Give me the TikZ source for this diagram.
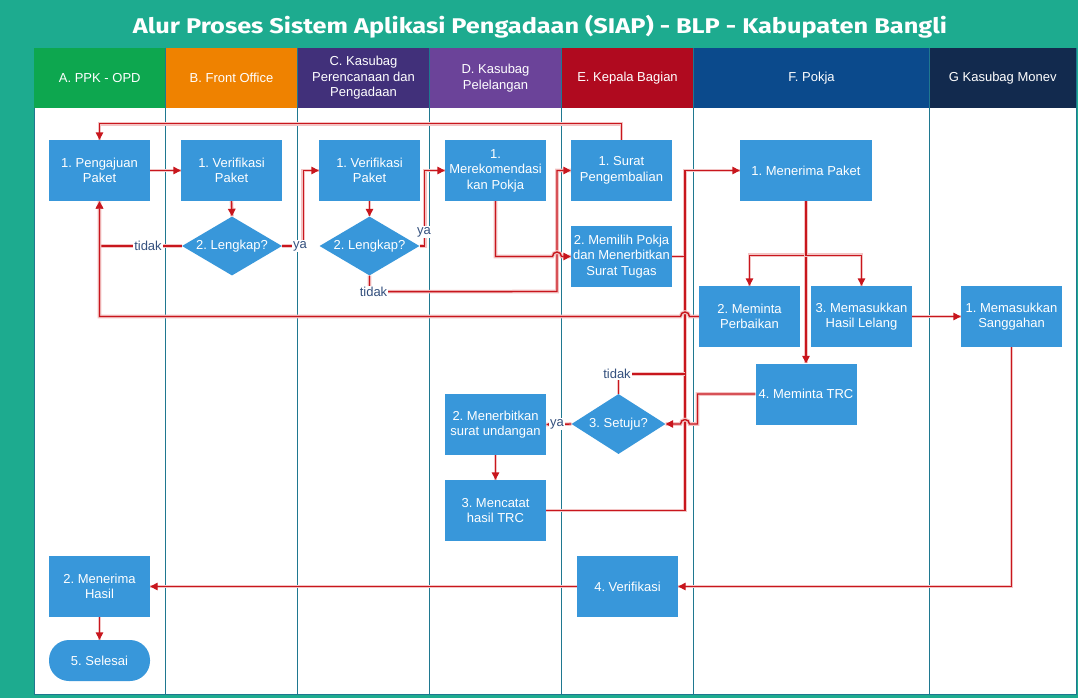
\documentclass[tikz,border=0pt]{standalone}
\usepackage{fontspec}
\setmainfont{Liberation Sans}
\newfontfamily\titlefont{Fira Sans}
\usetikzlibrary{arrows.meta,shapes.geometric}
\definecolor{bgteal}{HTML}{1DAB8F}
\definecolor{boxblue}{HTML}{3897DA}
\definecolor{flowred}{HTML}{C8161D}
\definecolor{halo}{HTML}{F3C4C4}
\definecolor{lanec}{HTML}{1F7890}
\definecolor{lblc}{HTML}{34507E}
\definecolor{hA}{HTML}{0DA74F}
\definecolor{hB}{HTML}{EF8200}
\definecolor{hC}{HTML}{41307A}
\definecolor{hD}{HTML}{6B4399}
\definecolor{hE}{HTML}{B00A1F}
\definecolor{hF}{HTML}{0B4A8C}
\definecolor{hG}{HTML}{122A4E}
\frenchspacing
\begin{document}
\begin{tikzpicture}[x=1pt,y=-1pt,
  boxfont/.style={font=\fontsize{13}{15.5}\selectfont},
  proc/.style={boxfont,rectangle,fill=boxblue,text=white,minimum width=101pt,minimum height=61pt,align=center,inner sep=1pt},
  dec/.style={boxfont,diamond,aspect=1.7,fill=boxblue,text=white,minimum width=100pt,minimum height=59pt,inner sep=0pt},
  term/.style={proc,rounded corners=20pt,minimum height=41pt},
  hdr/.style={boxfont,text=white,align=center},
  lbl/.style={boxfont,text=lblc,fill=white,inner sep=1pt},
  flow/.style={draw=flowred,line width=1.4pt,preaction={draw=halo,line width=3.6pt,-}},
  arr/.style={flow,-{Triangle[length=7.5pt,width=7.5pt]}},
  lane/.style={draw=lanec,line width=1pt}
]
\useasboundingbox (0,0) rectangle (1078,698);
\fill[bgteal] (0,0) rectangle (1078,698);
\node[text=white,anchor=base,inner sep=0pt] (title) at (540,33.3) {\resizebox{814pt}{18.3pt}{\titlefont\bfseries Alur Proses Sistem Aplikasi Pengadaan (SIAP) - BLP - Kabupaten Bangli}};
% body
\fill[white] (34,108) rectangle (1076,694);
% headers
\fill[hA] (34,48) rectangle (165.5,108);
\fill[hB] (165.5,48) rectangle (297.5,108);
\fill[hC] (297.5,48) rectangle (429.5,108);
\fill[hD] (429.5,48) rectangle (561.5,108);
\fill[hE] (561.5,48) rectangle (693.5,108);
\fill[hF] (693.5,48) rectangle (929.5,108);
\fill[hG] (929.5,48) rectangle (1076,108);
\node[hdr] (hdA) at (99.75,78) {A. PPK - OPD};
\node[hdr] (hdB) at (231.5,78) {B. Front Office};
\node[hdr] (hdC) at (363.5,78) {C. Kasubag\\Perencanaan dan\\Pengadaan};
\node[hdr] (hdD) at (495.5,78) {D. Kasubag\\Pelelangan};
\node[hdr] (hdE) at (627.5,78) {E. Kepala Bagian};
\node[hdr] (hdF) at (811.5,78) {F. Pokja};
\node[hdr] (hdG) at (1002.75,78) {G Kasubag Monev};
% lane lines
\foreach \lx in {165.5,297.5,429.5,561.5,693.5,929.5}{\draw[lane] (\lx,48) -- (\lx,694);}
\draw[lane] (34,694) -- (1076,694) -- (1076,48);
\draw[lane] (34,108) -- (34,694);

% nodes
\node[proc] (pa) at (99.5,170.5) {1. Pengajuan\\Paket};
\node[proc] (vb) at (231.5,170.5) {1. Verifikasi\\Paket};
\node[dec] (lb) at (232,246) {2. Lengkap?};
\node[proc] (vc) at (369.5,170.5) {1. Verifikasi\\Paket};
\node[dec] (lc) at (369.5,246) {2. Lengkap?};
\node[proc] (mk) at (495.5,170.5) {1.\\Merekomendasi\\kan Pokja};
\node[proc] (sp) at (621.5,170.5) {1. Surat\\Pengembalian};
\node[proc] (mp) at (621.5,256.5) {2. Memilih Pokja\\dan Menerbitkan\\Surat Tugas};
\node[proc,minimum width=132pt] (mr) at (806,170.5) {1. Menerima Paket};
\node[proc] (mpb) at (749.5,316.5) {2. Meminta\\Perbaikan};
\node[proc] (hl) at (861.5,316.5) {3. Memasukkan\\Hasil Lelang};
\node[proc] (sg) at (1011.5,316.5) {1. Memasukkan\\Sanggahan};
\node[proc] (trc) at (806,394) {4. Meminta TRC};
\node[dec,minimum width=94pt,minimum height=60pt] (st) at (618.5,424) {3. Setuju?};
\node[proc] (mu) at (495.5,424.5) {2. Menerbitkan\\surat undangan};
\node[proc] (mc) at (495.5,510.5) {3. Mencatat\\hasil TRC};
\node[proc] (vf) at (627.5,586.5) {4. Verifikasi};
\node[proc] (mh) at (99.5,586.5) {2. Menerima\\Hasil};
\node[term] (sl) at (99.5,660.5) {5. Selesai};

% connectors
\draw[arr] (pa.east) -- (vb.west);
\draw[arr] (vb.south) -- (lb.north);
\draw[arr] (lb.west) -| (pa.south);
\draw[arr] (lb.east) -- ++(21,0) |- (vc.west);
\draw[arr] (vc.south) -- (lc.north);
\draw[arr] (lc.east) -- ++(5,0) |- (mk.west);
\draw[arr] (lc.south) -- ++(0,16) -- (557,291.5) |- (sp.west);
\draw[arr] (sp.north) -- ++(0,-16) -| (pa.north);
\draw[arr] (mk.south) |- (552.5,256.5) arc[start angle=180,end angle=0,radius=4.5pt] -- (mp.west);
\draw[arr] (mp.east) -- (685,256.5) |- (mr.west);
\draw[flow] (mc.east) -| (685,256.5);
\draw[flow] (st.north) |- (685,374);
\draw[arr] (mpb.west) -- (689.5,316.5) arc[start angle=0,end angle=180,radius=4.5pt] -- (99.5,316.5) -- (pa.south);
\draw[arr] (mr.south) -- (trc.north);
\draw[arr] (mr.south) -- ++(0,54) -| (mpb.north);
\draw[arr] (mr.south) -- ++(0,54) -| (hl.north);
\draw[arr] (hl.east) -- (sg.west);
\draw[arr] (sg.south) |- (vf.east);
\draw[arr] (trc.west) -- (697.5,394) -- (697.5,424) -- (689.5,424) arc[start angle=0,end angle=180,radius=4.5pt] -- (st.east);
\draw[arr] (st.west) -- (mu.east);
\draw[arr] (mu.south) -- (mc.north);
\draw[arr] (vf.west) -- (mh.east);
\draw[arr] (mh.south) -- (sl.north);

% labels
\node[lbl] (t1) at (148,246) {tidak};
\node[lbl] (y1) at (300,246) {ya};
\node[lbl] (y2) at (424,232) {ya};
\node[lbl] (t2) at (373.5,291.5) {tidak};
\node[lbl] (t3) at (617,374) {tidak};
\node[lbl] (y3) at (557,424) {ya};
\end{tikzpicture}
\end{document}
